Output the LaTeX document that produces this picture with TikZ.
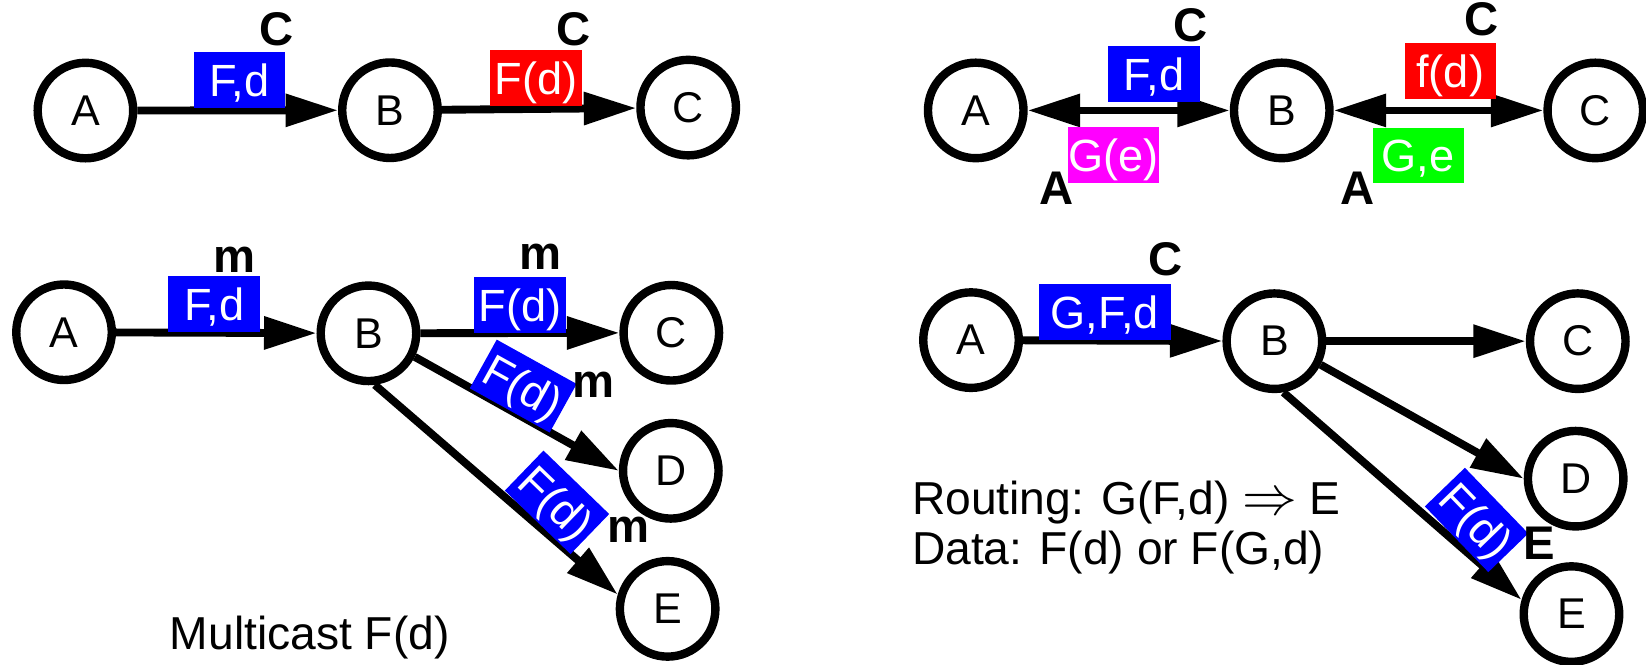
\documentclass[tikz,border=0pt]{standalone}
\usepackage{fontspec}
\usepackage{graphicx}
\setmainfont{Liberation Sans}
\usetikzlibrary{arrows.meta}
\tikzset{
  vtx/.style={circle, draw, line width=8pt, minimum size=91pt, inner sep=0pt, font=\fontsize{41}{49}\selectfont},
  conn/.style={line width=7.5pt, -{Triangle[length=50pt,width=30pt]}},
  dconn/.style={line width=7.5pt, {Triangle[length=50pt,width=30pt]}-{Triangle[length=50pt,width=30pt]}},
  tag/.style={fill=#1, text=white, minimum width=87pt, minimum height=53pt, inner sep=0pt, text height=31pt, text depth=0pt, font=\fontsize{43}{50}\selectfont},
  lbl/.style={inner sep=0pt, font=\bfseries\fontsize{45}{54}\selectfont},
  note/.style={inner sep=0pt, anchor=base west, font=\fontsize{44}{50}\selectfont}
}
\definecolor{pblue}{RGB}{0,0,255}
\definecolor{pred}{RGB}{255,0,0}
\definecolor{pmag}{RGB}{255,0,255}
\definecolor{pgreen}{RGB}{0,255,0}
\begin{document}
\begin{tikzpicture}[x=1pt,y=-1pt]
\useasboundingbox (0,0) rectangle (1568,633);
% ---------- top left ----------
\node[vtx] (a1) at (81.4,105.3) {A};
\node[vtx] (b1) at (371.5,105) {B};
\node[vtx] (c1) at (655.6,102.5) {C};
\draw[conn] (a1) -- (b1);
\draw[conn] (b1) -- (c1);
\node[tag=pblue] (t1) at (227.9,76.1) {F,d};
\node[lbl] (l1) at (263.5,28) {C};
\node[tag=pred] (t2) at (510.5,74.3) {F(d)};
\node[lbl] (l2) at (546,28) {C};
% ---------- top right ----------
\node[vtx] (a2) at (929.5,105.2) {A};
\node[vtx] (b2) at (1221,105.2) {B};
\node[vtx] (c2) at (1519.7,105.2) {C};
\draw[dconn] (a2) -- (b2);
\draw[dconn] (b2) -- (c2);
\node[tag=pblue] (t3) at (1099.4,70.3) {F,d};
\node[lbl] (l3) at (1134.6,24.5) {C};
\node[tag=pmag] (t4) at (1060.9,147.8) {G(e)};
\node[lbl] (l4) at (1006.7,179.4) {A};
\node[tag=pred] (t5) at (1381.5,67.8) {f(d)};
\node[lbl] (l5) at (1411,18.3) {C};
\node[tag=pgreen] (t6) at (1351,148.1) {G,e};
\node[lbl] (l6) at (1293,179.4) {A};
% ---------- bottom left ----------
\node[vtx] (a3) at (61,316.5) {A};
\node[vtx] (b3) at (351,317.5) {B};
\node[vtx] (c3) at (639.5,317) {C};
\node[vtx] (d3) at (639,448.5) {D};
\node[vtx] (e3) at (636,580) {E};
\draw[conn] (a3) -- (b3);
\draw[conn] (b3) -- (c3);
\draw[conn] (b3.-27) -- (d3.west);
\draw[conn] (b3.-83) -- (e3.164);
\node[tag=pblue] (t7) at (204,289.5) {F,d};
\node[lbl] (l7) at (223,247.5) {m};
\node[tag=pblue] (t8) at (495.3,290.5) {F(d)};
\node[lbl] (l8) at (515,245) {m};
\node[tag=pblue, rotate=-29] (t9) at (498.4,367.8) {F(d)};
\node[lbl] (l9) at (565.7,366.7) {m};
\node[tag=pblue, rotate=-44] (t10) at (530.6,478.5) {F(d)};
\node[lbl] (l10) at (598.5,504.8) {m};
\node[note] (n1) at (161.6,619) {Multicast F(d)};
% ---------- bottom right ----------
\node[vtx] (a4) at (925,324) {A};
\node[vtx] (b4) at (1214,325) {B};
\node[vtx] (c4) at (1503,325) {C};
\node[vtx] (d4) at (1501,456) {D};
\node[vtx] (e4) at (1497,585) {E};
\draw[conn] (a4) -- (b4);
\draw[conn] (b4) -- (c4);
\draw[conn] (b4.-27) -- (d4.west);
\draw[conn] (b4.-80) -- (e4.164);
\node[tag=pblue, minimum width=125.5pt] (t11) at (1052.3,297.2) {G,F,d};
\node[lbl] (l11) at (1110,247) {C};
\node[tag=pblue, rotate=-46] (t12) at (1406.6,495.3) {F(d)};
\node[lbl] (l12) at (1466,517.5) {E};
\node[note] (n2) at (868.6,490.5) {Routing: G(F,d) \scalebox{2.1}{$\Rightarrow$} E};
\node[note] (n3) at (868.6,538) {Data: F(d) or F(G,d)};
\end{tikzpicture}
\end{document}
